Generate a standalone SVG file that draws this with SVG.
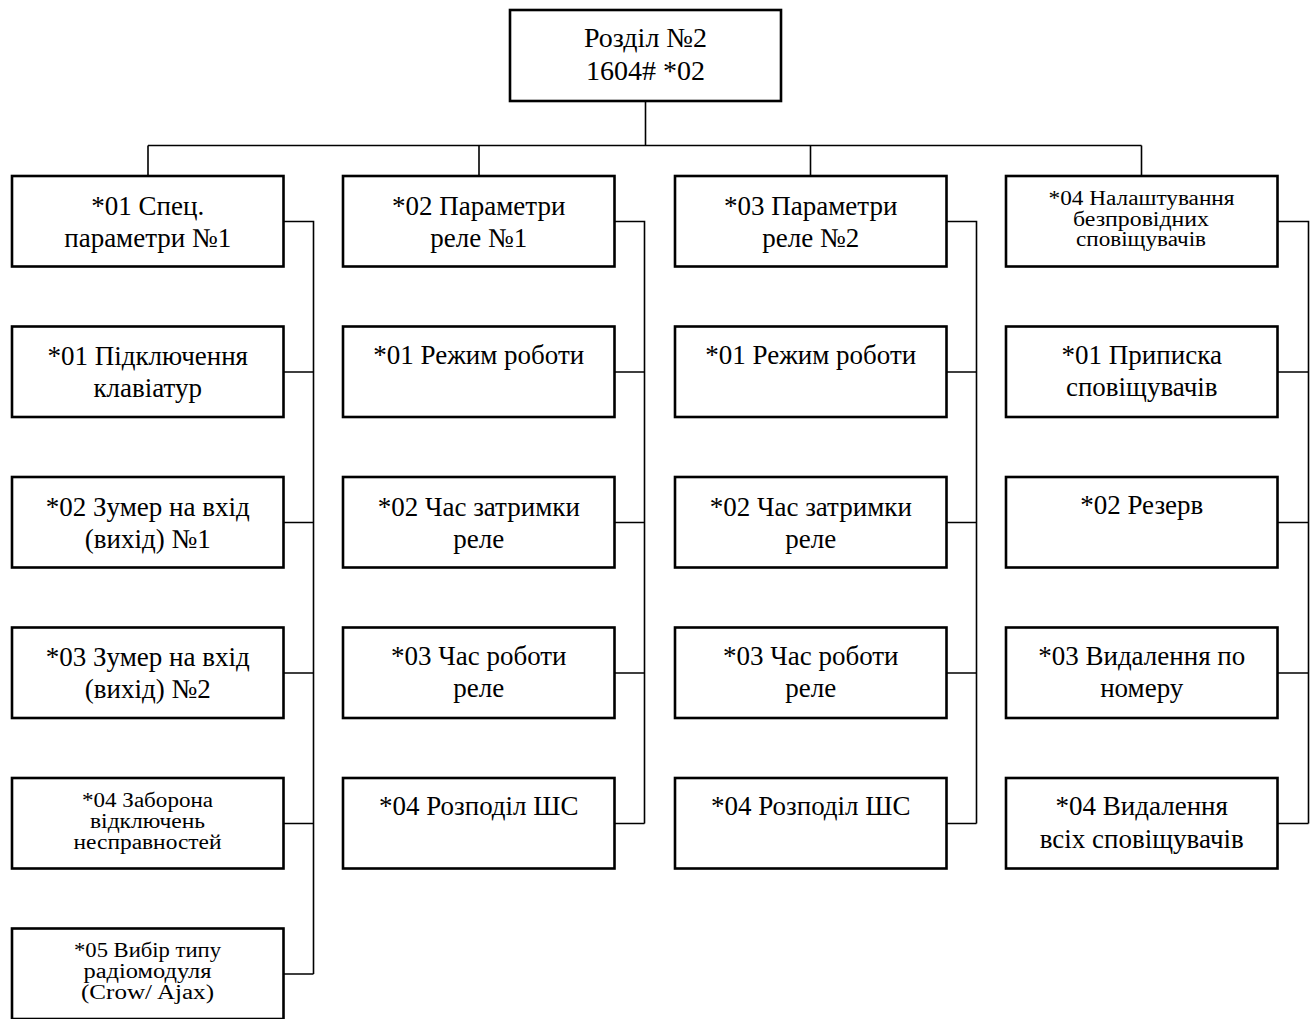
<svg xmlns="http://www.w3.org/2000/svg" width="1316" height="1019" viewBox="0 0 1316 1019">
<style>
.box{fill:#fff;stroke:#000;stroke-width:2.6}
.con{fill:none;stroke:#000;stroke-width:1.6}
text{font-family:"Liberation Serif","Times New Roman",serif;fill:#000;text-anchor:middle}
.b{font-size:27px}
.r{font-size:28px}
.s{font-size:20px}
</style>
<rect width="1316" height="1019" fill="#fff"/>
<g id="connectors">
<path class="con" d="M645.5 101V145.5M148 145.5H1141.5M148 145.5V176M479 145.5V176M810.5 145.5V176M1141.5 145.5V176"/>
<path class="con" d="M283.5 221.5H313.5V974M283.5 372H313.5M283.5 522.5H313.5M283.5 673H313.5M283.5 823.5H313.5M283.5 974H313.5"/>
<path class="con" d="M614.5 221.5H644.5V823.5M614.5 372H644.5M614.5 522.5H644.5M614.5 673H644.5M614.5 823.5H644.5"/>
<path class="con" d="M946.5 221.5H976.5V823.5M946.5 372H976.5M946.5 522.5H976.5M946.5 673H976.5M946.5 823.5H976.5"/>
<path class="con" d="M1277.5 221.5H1308.5V823.5M1277.5 372H1308.5M1277.5 522.5H1308.5M1277.5 673H1308.5M1277.5 823.5H1308.5"/>
</g>
<g id="root"><rect class="box" x="510" y="10" width="271" height="91"/><text class="r" x="645.5" y="47">Розділ №2</text><text class="r" x="645.5" y="79.5">1604# *02</text></g>

<g id="c1r1"><rect class="box" x="12" y="176" width="271.5" height="90.5"/><text class="b" x="147.75" y="215">*01 Спец.</text><text class="b" x="147.75" y="246.5">параметри №1</text></g>
<g id="c1r2"><rect class="box" x="12" y="326.5" width="271.5" height="90.5"/><text class="b" x="147.75" y="365">*01 Підключення</text><text class="b" x="147.75" y="397">клавіатур</text></g>
<g id="c1r3"><rect class="box" x="12" y="477" width="271.5" height="90.5"/><text class="b" x="147.75" y="515.5">*02 Зумер на вхід</text><text class="b" x="147.75" y="547.5">(вихід) №1</text></g>
<g id="c1r4"><rect class="box" x="12" y="627.5" width="271.5" height="90.5"/><text class="b" x="147.75" y="666">*03 Зумер на вхід</text><text class="b" x="147.75" y="698">(вихід) №2</text></g>
<g id="c1r5"><rect class="box" x="12" y="778" width="271.5" height="90.5"/><text class="s" x="147.5" y="806.5" textLength="131" lengthAdjust="spacingAndGlyphs">*04 Заборона</text><text class="s" x="147.5" y="827.5" textLength="115" lengthAdjust="spacingAndGlyphs">відключень</text><text class="s" x="147.5" y="849" textLength="148" lengthAdjust="spacingAndGlyphs">несправностей</text></g>
<g id="c1r6"><rect class="box" x="12" y="928.5" width="271.5" height="90.5"/><text class="s" x="147.5" y="956.5" textLength="147" lengthAdjust="spacingAndGlyphs">*05 Вибір типу</text><text class="s" x="147.5" y="977.5" textLength="128" lengthAdjust="spacingAndGlyphs">радіомодуля</text><text class="s" x="147.5" y="998.5" textLength="133" lengthAdjust="spacingAndGlyphs">(Crow/ Ajax)</text></g>

<g id="c2r1"><rect class="box" x="343" y="176" width="271.5" height="90.5"/><text class="b" x="478.75" y="215">*02 Параметри</text><text class="b" x="478.75" y="246.5">реле №1</text></g>
<g id="c2r2"><rect class="box" x="343" y="326.5" width="271.5" height="90.5"/><text class="b" x="478.75" y="364">*01 Режим роботи</text></g>
<g id="c2r3"><rect class="box" x="343" y="477" width="271.5" height="90.5"/><text class="b" x="478.75" y="515.5">*02 Час затримки</text><text class="b" x="478.75" y="547.5">реле</text></g>
<g id="c2r4"><rect class="box" x="343" y="627.5" width="271.5" height="90.5"/><text class="b" x="478.75" y="665">*03 Час роботи</text><text class="b" x="478.75" y="697">реле</text></g>
<g id="c2r5"><rect class="box" x="343" y="778" width="271.5" height="90.5"/><text class="b" x="478.75" y="815">*04 Розподіл ШС</text></g>

<g id="c3r1"><rect class="box" x="675" y="176" width="271.5" height="90.5"/><text class="b" x="810.75" y="215">*03 Параметри</text><text class="b" x="810.75" y="246.5">реле №2</text></g>
<g id="c3r2"><rect class="box" x="675" y="326.5" width="271.5" height="90.5"/><text class="b" x="810.75" y="364">*01 Режим роботи</text></g>
<g id="c3r3"><rect class="box" x="675" y="477" width="271.5" height="90.5"/><text class="b" x="810.75" y="515.5">*02 Час затримки</text><text class="b" x="810.75" y="547.5">реле</text></g>
<g id="c3r4"><rect class="box" x="675" y="627.5" width="271.5" height="90.5"/><text class="b" x="810.75" y="665">*03 Час роботи</text><text class="b" x="810.75" y="697">реле</text></g>
<g id="c3r5"><rect class="box" x="675" y="778" width="271.5" height="90.5"/><text class="b" x="810.75" y="815">*04 Розподіл ШС</text></g>

<g id="c4r1"><rect class="box" x="1006" y="176" width="271.5" height="90.5"/><text class="s" x="1141.5" y="205" textLength="186" lengthAdjust="spacingAndGlyphs">*04 Налаштування</text><text class="s" x="1141" y="225.5" textLength="136" lengthAdjust="spacingAndGlyphs">безпровідних</text><text class="s" x="1141" y="246" textLength="130" lengthAdjust="spacingAndGlyphs">сповіщувачів</text></g>
<g id="c4r2"><rect class="box" x="1006" y="326.5" width="271.5" height="90.5"/><text class="b" x="1141.75" y="364">*01 Приписка</text><text class="b" x="1141.75" y="396">сповіщувачів</text></g>
<g id="c4r3"><rect class="box" x="1006" y="477" width="271.5" height="90.5"/><text class="b" x="1141.75" y="514">*02 Резерв</text></g>
<g id="c4r4"><rect class="box" x="1006" y="627.5" width="271.5" height="90.5"/><text class="b" x="1141.75" y="664.5">*03 Видалення по</text><text class="b" x="1141.75" y="697">номеру</text></g>
<g id="c4r5"><rect class="box" x="1006" y="778" width="271.5" height="90.5"/><text class="b" x="1141.75" y="815">*04 Видалення</text><text class="b" x="1141.75" y="848">всіх сповіщувачів</text></g>
</svg>
